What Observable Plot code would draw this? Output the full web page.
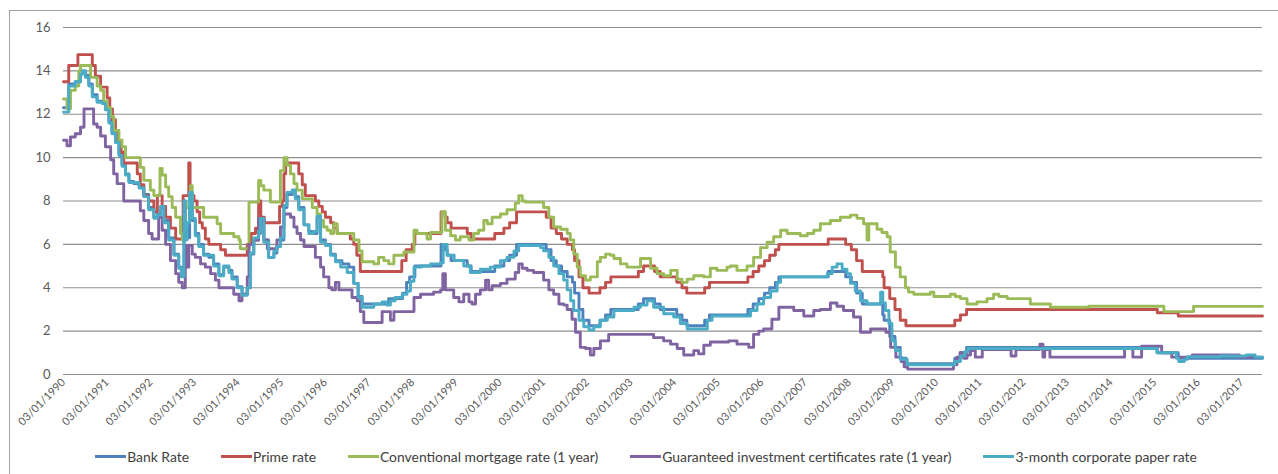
<!DOCTYPE html>
<html>
<head>
<meta charset="utf-8">
<script src="https://cdn.jsdelivr.net/npm/d3@7"></script>
<script src="https://cdn.jsdelivr.net/npm/@observablehq/plot@0.6"></script>
<style>
  html, body { margin: 0; padding: 0; background: #fff; }
  body { width: 1278px; height: 474px; position: relative; overflow: hidden; font-family: Lato, "Open Sans", sans-serif; }
  #frame { position: absolute; left: 9px; top: 10px; width: 1290px; height: 480px; border: 1px solid #a3a3a3; box-sizing: border-box; pointer-events: none; }
  #chart { position: absolute; left: 0; top: 0; }
  #legend { position: absolute; left: 9px; width: 1274px; top: 448px; display: flex; justify-content: center; gap: 32px; font-size: 13.9px; color: #404040; }
  #legend .item { display: flex; align-items: center; white-space: nowrap; }
  #legend .sw { display: inline-block; width: 31px; height: 3px; margin-right: 1px; }
</style>
</head>
<body>
<div id="frame"></div>
<div id="chart"></div>
<div id="legend"></div>
<script>
// ---- Data (decimal year, rate %) ----
const seriesNames = ["Bank Rate", "Prime rate", "Conventional mortgage rate (1 year)", "Guaranteed investment certificates rate (1 year)", "3-month corporate paper rate"];
const seriesColors = ["#4F81BD", "#C0504D", "#9BBB59", "#8064A2", "#4BACC6"];
const yearTicks = d3.range(1990, 2018);
const rateTicks = [0, 2, 4, 6, 8, 10, 12, 14, 16];
const endYear = 2017.47;

const bankRate = [
 [1990.00,12.3],[1990.12,13.4],[1990.27,13.5],[1990.39,13.85],[1990.43,14.0],[1990.50,13.8],[1990.58,13.4],[1990.66,12.9],[1990.77,12.6],[1990.89,12.5],[1990.96,12.3],
 [1991.04,11.7],[1991.11,11.2],[1991.19,10.8],[1991.27,10.2],[1991.34,9.7],[1991.42,9.25],[1991.50,8.9],[1991.61,8.8],[1991.73,8.7],[1991.84,8.3],[1991.95,7.7],
 [1992.07,7.25],[1992.15,7.4],[1992.22,7.7],[1992.30,7.1],[1992.41,6.3],[1992.53,5.55],[1992.64,4.95],[1992.70,4.6],[1992.76,8.0],[1992.79,6.8],[1992.83,6.3],[1992.89,8.3],[1992.95,7.1],
 [1993.02,6.5],[1993.10,6.0],[1993.21,5.55],[1993.33,5.4],[1993.44,5.1],[1993.56,4.6],[1993.67,4.95],[1993.79,4.8],[1993.86,4.5],[1993.98,4.05],
 [1994.09,3.7],[1994.21,4.0],[1994.28,5.55],[1994.36,6.2],[1994.47,6.5],[1994.51,7.1],[1994.59,6.2],[1994.70,5.4],[1994.82,5.6],[1994.89,5.9],[1994.97,6.2],
 [1995.05,7.7],[1995.12,8.3],[1995.24,8.5],[1995.31,8.2],[1995.39,7.7],[1995.51,6.9],[1995.62,6.6],[1995.73,6.5],[1995.81,7.25],[1995.89,6.2],
 [1996.00,6.0],[1996.12,5.55],[1996.23,5.25],[1996.38,5.1],[1996.54,4.95],[1996.65,4.2],[1996.75,3.6],[1996.84,3.25],
 [1997.45,3.5],[1997.77,3.75],[1997.86,4.25],[1997.93,4.5],[1998.05,5.0],[1998.65,6.0],[1998.74,5.75],[1998.79,5.5],[1998.88,5.25],
 [1999.25,5.0],[1999.34,4.75],[1999.88,5.0],[2000.09,5.25],[2000.22,5.5],[2000.38,6.0],
 [2001.06,5.75],[2001.17,5.25],[2001.29,5.0],[2001.41,4.75],[2001.54,4.5],[2001.66,4.25],[2001.71,3.75],[2001.81,3.0],[2001.90,2.5],
 [2002.04,2.25],[2002.29,2.5],[2002.42,2.75],[2002.54,3.0],[2003.17,3.25],[2003.29,3.5],[2003.54,3.25],[2003.67,3.0],
 [2004.05,2.75],[2004.17,2.5],[2004.28,2.25],[2004.69,2.5],[2004.80,2.75],[2005.68,3.0],[2005.80,3.25],[2005.93,3.5],
 [2006.06,3.75],[2006.18,4.0],[2006.31,4.25],[2006.39,4.5],[2007.52,4.75],[2007.92,4.5],
 [2008.05,4.25],[2008.17,3.75],[2008.30,3.25],[2008.77,2.75],[2008.80,2.5],[2008.93,1.75],
 [2009.05,1.25],[2009.17,0.75],[2009.30,0.5],[2010.42,0.75],[2010.55,1.0],[2010.69,1.25],
 [2015.06,1.0],[2015.54,0.75],[2017.47,0.75]
];

const primeRate = [
 [1990.00,13.5],[1990.12,14.25],[1990.33,14.75],[1990.66,14.25],[1990.73,13.75],[1990.85,13.25],
 [1991.00,12.75],[1991.06,12.25],[1991.12,11.75],[1991.19,11.25],[1991.25,10.75],[1991.32,10.25],[1991.38,9.75],[1991.69,9.25],[1991.76,8.75],[1991.84,8.25],[1991.95,8.0],
 [1992.07,7.5],[1992.15,8.25],[1992.26,7.75],[1992.34,7.25],[1992.45,6.75],[1992.57,6.25],[1992.74,8.25],[1992.87,9.75],[1992.90,8.25],[1992.99,8.0],
 [1993.06,7.5],[1993.12,7.0],[1993.18,6.75],[1993.25,6.25],[1993.33,6.0],[1993.60,5.75],[1993.71,5.5],
 [1994.21,6.0],[1994.30,6.5],[1994.40,6.75],[1994.47,8.0],[1994.52,7.25],[1994.60,7.0],[1994.95,7.75],
 [1995.01,8.0],[1995.05,9.25],[1995.09,9.75],[1995.39,9.25],[1995.47,8.75],[1995.54,8.25],[1995.77,8.0],[1995.85,7.75],[1995.93,7.5],
 [1996.00,7.25],[1996.12,7.0],[1996.19,6.75],[1996.27,6.5],[1996.57,6.25],[1996.65,6.0],[1996.72,5.5],[1996.80,4.75],
 [1997.75,5.25],[1997.85,5.75],[1997.99,6.0],[1998.05,6.5],[1998.65,7.5],[1998.74,7.25],[1998.79,7.0],[1998.88,6.75],
 [1999.25,6.5],[1999.34,6.25],[1999.88,6.5],[2000.09,6.75],[2000.22,7.0],[2000.38,7.5],
 [2001.06,7.25],[2001.17,6.75],[2001.29,6.5],[2001.41,6.25],[2001.54,6.0],[2001.66,5.75],[2001.71,5.25],[2001.81,4.5],[2001.90,4.0],
 [2002.04,3.75],[2002.29,4.0],[2002.42,4.25],[2002.54,4.5],[2003.17,4.75],[2003.29,5.0],[2003.54,4.75],[2003.67,4.5],
 [2004.05,4.25],[2004.17,4.0],[2004.28,3.75],[2004.69,4.0],[2004.80,4.25],[2005.68,4.5],[2005.80,4.75],[2005.93,5.0],
 [2006.06,5.25],[2006.18,5.5],[2006.31,5.75],[2006.39,6.0],[2007.52,6.25],[2007.92,6.0],
 [2008.05,5.75],[2008.17,5.25],[2008.30,4.75],[2008.77,4.5],[2008.80,4.0],[2008.93,3.5],
 [2009.05,3.0],[2009.17,2.5],[2009.30,2.25],[2010.42,2.5],[2010.55,2.75],[2010.69,3.0],
 [2015.06,2.85],[2015.54,2.7],[2017.47,2.7]
];

const mortgageRate = [
 [1990.00,12.7],[1990.08,12.25],[1990.16,13.1],[1990.27,13.3],[1990.35,14.0],[1990.39,14.25],[1990.62,13.7],[1990.77,13.3],[1990.85,13.1],[1990.92,12.6],
 [1991.00,12.3],[1991.08,11.9],[1991.15,11.25],[1991.27,10.8],[1991.34,10.5],[1991.42,10.0],[1991.76,9.55],[1991.84,8.95],[1991.99,8.5],
 [1992.07,8.25],[1992.21,9.5],[1992.26,9.2],[1992.34,8.65],[1992.41,8.2],[1992.49,7.7],[1992.57,7.25],[1992.68,6.5],[1992.72,6.2],[1992.79,7.7],[1992.87,8.0],[1992.91,8.7],[1992.95,7.7],
 [1993.21,7.25],[1993.52,6.95],[1993.60,6.5],[1993.90,6.35],[1994.02,6.2],[1994.05,5.8],[1994.25,7.95],[1994.47,8.95],[1994.52,8.7],[1994.59,8.5],[1994.74,7.95],[1994.97,9.4],
 [1995.05,10.0],[1995.12,9.65],[1995.20,9.25],[1995.28,8.8],[1995.35,8.5],[1995.47,8.1],[1995.70,7.7],[1995.81,7.4],[1995.89,7.1],[1995.96,6.8],
 [1996.04,6.65],[1996.12,6.5],[1996.19,6.95],[1996.27,6.5],[1996.65,6.2],[1996.77,5.7],[1996.84,5.2],
 [1997.11,5.1],[1997.22,5.4],[1997.34,5.25],[1997.45,5.1],[1997.57,5.5],[1997.80,5.65],
 [1998.03,6.65],[1998.10,6.5],[1998.33,6.25],[1998.41,6.55],[1998.67,7.5],[1998.75,6.65],[1998.87,6.4],[1998.98,6.2],
 [1999.09,6.35],[1999.29,6.2],[1999.40,6.5],[1999.51,6.65],[1999.63,7.1],[1999.71,6.95],[1999.82,7.25],
 [2000.01,7.4],[2000.16,7.6],[2000.35,7.9],[2000.43,8.25],[2000.51,8.0],[2000.58,7.95],
 [2001.00,7.7],[2001.12,7.25],[2001.23,6.8],[2001.39,6.7],[2001.54,6.5],[2001.61,6.2],[2001.69,5.55],[2001.77,4.95],[2001.84,4.55],[2001.96,4.35],
 [2002.07,4.5],[2002.23,5.2],[2002.30,5.4],[2002.42,5.55],[2002.53,5.5],[2002.61,5.35],[2002.76,5.1],[2002.91,4.95],
 [2003.22,5.35],[2003.45,4.9],[2003.60,4.65],[2003.75,4.55],[2003.91,4.8],
 [2004.06,4.4],[2004.17,4.25],[2004.29,4.4],[2004.44,4.55],[2004.67,4.5],[2004.82,4.9],[2004.97,4.8],
 [2005.20,4.95],[2005.28,5.0],[2005.43,4.8],[2005.66,5.0],[2005.81,5.4],[2005.97,5.85],
 [2006.12,6.1],[2006.27,6.35],[2006.43,6.65],[2006.58,6.5],[2006.88,6.4],
 [2007.04,6.5],[2007.19,6.65],[2007.34,6.95],[2007.57,7.1],[2007.80,7.25],
 [2008.03,7.35],[2008.18,7.2],[2008.33,6.95],[2008.41,6.2],[2008.45,6.95],[2008.64,6.7],[2008.75,6.55],[2008.87,6.35],[2008.94,5.65],
 [2009.06,4.95],[2009.17,4.5],[2009.29,4.0],[2009.36,3.8],[2009.48,3.7],[2009.86,3.8],[2009.94,3.6],
 [2010.32,3.7],[2010.43,3.6],[2010.55,3.5],[2010.70,3.25],[2010.93,3.35],
 [2011.16,3.5],[2011.31,3.7],[2011.43,3.6],[2011.62,3.5],[2012.15,3.25],[2012.61,3.1],[2013.49,3.15],
 [2015.21,2.9],[2015.89,3.14],[2017.47,3.14]
];

const gicRate = [
 [1990.00,10.8],[1990.08,10.55],[1990.16,10.95],[1990.27,11.1],[1990.39,11.4],[1990.47,12.25],[1990.69,11.55],[1990.77,11.4],[1990.85,11.0],[1990.96,10.5],
 [1991.08,9.9],[1991.15,9.25],[1991.23,8.8],[1991.38,8.0],[1991.76,7.55],[1991.84,7.1],[1991.95,6.5],
 [1992.03,6.25],[1992.18,7.25],[1992.26,6.65],[1992.34,6.0],[1992.45,5.25],[1992.57,4.65],[1992.64,4.25],[1992.72,4.0],[1992.79,5.95],[1992.83,4.95],[1992.87,5.95],[1992.95,5.55],
 [1993.02,5.4],[1993.14,5.1],[1993.25,4.95],[1993.37,4.65],[1993.48,4.35],[1993.56,4.0],[1993.90,3.7],
 [1994.02,3.4],[1994.09,3.7],[1994.21,4.5],[1994.25,6.0],[1994.36,6.2],[1994.47,7.2],[1994.59,6.2],[1994.67,5.8],[1994.89,6.2],[1994.97,6.8],
 [1995.05,7.4],[1995.20,7.25],[1995.28,6.8],[1995.35,6.5],[1995.43,6.2],[1995.51,5.9],[1995.77,5.4],[1995.89,4.95],[1995.96,4.5],
 [1996.08,4.0],[1996.15,3.9],[1996.23,4.25],[1996.31,3.9],[1996.61,3.55],[1996.73,3.4],[1996.80,2.9],[1996.88,2.4],
 [1997.30,2.9],[1997.49,2.5],[1997.57,2.9],
 [1998.03,3.55],[1998.18,3.7],[1998.48,3.8],[1998.64,3.9],[1998.69,4.65],[1998.75,3.9],[1998.94,3.55],
 [1999.06,3.35],[1999.17,3.7],[1999.29,3.35],[1999.36,3.25],[1999.44,3.7],[1999.55,3.9],[1999.67,4.35],[1999.74,3.9],[1999.82,4.1],
 [2000.01,4.2],[2000.16,4.4],[2000.35,4.7],[2000.43,5.1],[2000.51,4.9],[2000.62,4.8],[2000.77,4.7],
 [2001.00,4.35],[2001.12,3.9],[2001.23,3.7],[2001.35,3.25],[2001.46,3.2],[2001.54,3.0],[2001.65,2.55],[2001.73,1.95],[2001.84,1.25],[2001.96,1.2],
 [2002.07,0.9],[2002.15,1.2],[2002.30,1.55],[2002.49,1.85],
 [2003.52,1.7],[2003.75,1.55],[2003.91,1.4],[2004.06,1.2],[2004.21,0.9],[2004.44,1.1],[2004.55,0.95],[2004.67,1.35],[2004.82,1.5],
 [2005.24,1.55],[2005.43,1.4],[2005.70,1.25],[2005.81,1.85],[2005.93,2.0],
 [2006.04,2.1],[2006.23,2.55],[2006.39,3.1],[2006.73,2.95],[2006.96,2.7],
 [2007.19,2.95],[2007.34,3.0],[2007.57,3.3],[2007.72,3.15],[2007.87,2.95],
 [2008.10,2.65],[2008.26,1.95],[2008.49,2.1],[2008.84,1.95],[2008.95,1.25],
 [2009.07,0.8],[2009.19,0.6],[2009.26,0.35],[2009.34,0.25],
 [2010.39,0.45],[2010.47,0.8],[2010.54,1.0],[2010.62,0.75],[2010.70,0.9],[2010.78,1.1],[2010.89,0.8],
 [2011.05,1.15],[2011.71,0.85],[2011.82,1.15],[2012.37,1.4],[2012.44,0.8],[2012.48,1.15],[2012.60,0.8],
 [2014.31,1.2],[2014.50,0.8],[2014.70,1.3],[2015.16,1.0],[2015.39,0.8],[2015.86,0.9],[2016.94,0.8],[2017.47,0.78]
];

const paperRate = [
 [1990.00,12.1],[1990.12,13.3],[1990.27,13.5],[1990.39,13.85],[1990.43,14.0],[1990.50,13.7],[1990.58,13.3],[1990.66,12.8],[1990.77,12.55],[1990.89,12.5],[1990.96,12.2],
 [1991.04,11.6],[1991.11,11.1],[1991.19,10.7],[1991.27,10.1],[1991.34,9.6],[1991.42,9.2],[1991.50,8.85],[1991.61,8.85],[1991.73,8.6],[1991.84,8.2],[1991.95,7.6],
 [1992.07,7.2],[1992.15,7.35],[1992.22,7.75],[1992.30,7.0],[1992.41,6.2],[1992.53,5.5],[1992.64,4.9],[1992.70,4.5],[1992.76,8.0],[1992.79,6.2],[1992.83,7.0],[1992.89,8.4],[1992.95,7.2],
 [1993.02,6.4],[1993.10,5.9],[1993.21,5.5],[1993.33,5.5],[1993.44,5.0],[1993.56,4.55],[1993.67,5.0],[1993.79,4.7],[1993.86,4.4],[1993.98,4.0],
 [1994.09,3.65],[1994.21,4.0],[1994.28,5.6],[1994.36,6.3],[1994.47,6.6],[1994.51,7.2],[1994.59,6.1],[1994.70,5.4],[1994.82,5.7],[1994.89,5.9],[1994.97,6.3],
 [1995.05,7.8],[1995.12,8.4],[1995.24,8.5],[1995.31,8.1],[1995.39,7.6],[1995.51,6.9],[1995.62,6.5],[1995.73,6.6],[1995.81,7.3],[1995.89,6.1],
 [1996.00,5.95],[1996.12,5.5],[1996.23,5.2],[1996.35,4.95],[1996.50,4.7],[1996.65,4.2],[1996.75,3.55],[1996.84,3.1],
 [1997.11,3.25],[1997.30,3.35],[1997.40,3.2],[1997.49,3.4],[1997.60,3.55],[1997.76,3.7],[1997.87,3.85],[1997.95,4.3],
 [1998.03,4.95],[1998.20,5.0],[1998.41,5.1],[1998.64,5.15],[1998.70,6.0],[1998.79,5.5],[1998.95,5.25],
 [1999.17,5.0],[1999.32,4.7],[1999.55,4.85],[1999.78,4.95],[2000.01,5.25],[2000.16,5.4],[2000.32,5.7],[2000.43,5.95],[2000.93,5.85],
 [2001.00,5.7],[2001.12,5.4],[2001.23,5.0],[2001.35,4.65],[2001.46,4.35],[2001.54,3.9],[2001.62,3.4],[2001.69,2.95],[2001.81,2.5],[2001.92,2.2],
 [2002.04,2.05],[2002.15,2.2],[2002.30,2.5],[2002.46,2.65],[2002.61,2.95],
 [2003.07,3.1],[2003.22,3.2],[2003.37,3.4],[2003.52,3.1],[2003.75,2.8],[2003.98,2.65],
 [2004.13,2.35],[2004.29,2.1],[2004.75,2.5],[2004.86,2.7],[2005.74,2.95],[2005.89,3.25],
 [2006.04,3.55],[2006.20,3.85],[2006.35,4.25],[2006.43,4.5],[2007.50,4.65],[2007.61,4.95],[2007.72,5.1],[2007.84,4.85],[2007.95,4.65],
 [2008.03,4.2],[2008.14,3.85],[2008.26,3.4],[2008.41,3.25],[2008.72,3.8],[2008.77,3.3],[2008.83,2.95],[2008.91,2.35],[2008.98,1.55],
 [2009.06,1.1],[2009.17,0.7],[2009.33,0.45],[2010.42,0.6],[2010.55,0.85],[2010.65,1.05],[2010.72,1.2],
 [2015.05,1.0],[2015.50,0.75],[2015.55,0.6],[2015.68,0.7],[2015.75,0.82],[2016.50,0.85],[2017.10,0.9],[2017.30,0.8],[2017.47,0.75]
];

const seriesData = [bankRate, primeRate, mortgageRate, gicRate, paperRate];

const chart = Plot.plot({
  width: 1278,
  height: 446,
  marginLeft: 63,
  marginRight: 16,
  marginTop: 27,
  marginBottom: 72,
  x: { domain: [1990, endYear] },
  y: { domain: [0, 16] },
  style: { fontFamily: "Lato, 'Open Sans', sans-serif", color: "#595959", background: "transparent", overflow: "visible" },
  marks: [
    Plot.gridY(rateTicks, { stroke: "#8e8e8e", strokeOpacity: 1, strokeWidth: 1.2 }),
    Plot.axisY(rateTicks, { tickSize: 0, tickPadding: 13, fontSize: 13, label: null }),
    Plot.axisX(yearTicks, { tickSize: 0, tickPadding: 6, tickRotate: -45, fontSize: 11, label: null, tickFormat: d => `03/01/${d}` }),
    ...seriesData.map((data, i) => Plot.line(data, {
      x: d => d[0], y: d => d[1],
      stroke: seriesColors[i], strokeWidth: 2.9, curve: "step-after", strokeLinejoin: "round"
    }))
  ]
});
document.getElementById("chart").appendChild(chart);

const legend = d3.select("#legend");
seriesNames.forEach((name, i) => {
  const item = legend.append("div").attr("class", "item");
  item.append("span").attr("class", "sw").style("background", seriesColors[i]);
  item.append("span").text(name);
});
</script>
</body>
</html>
